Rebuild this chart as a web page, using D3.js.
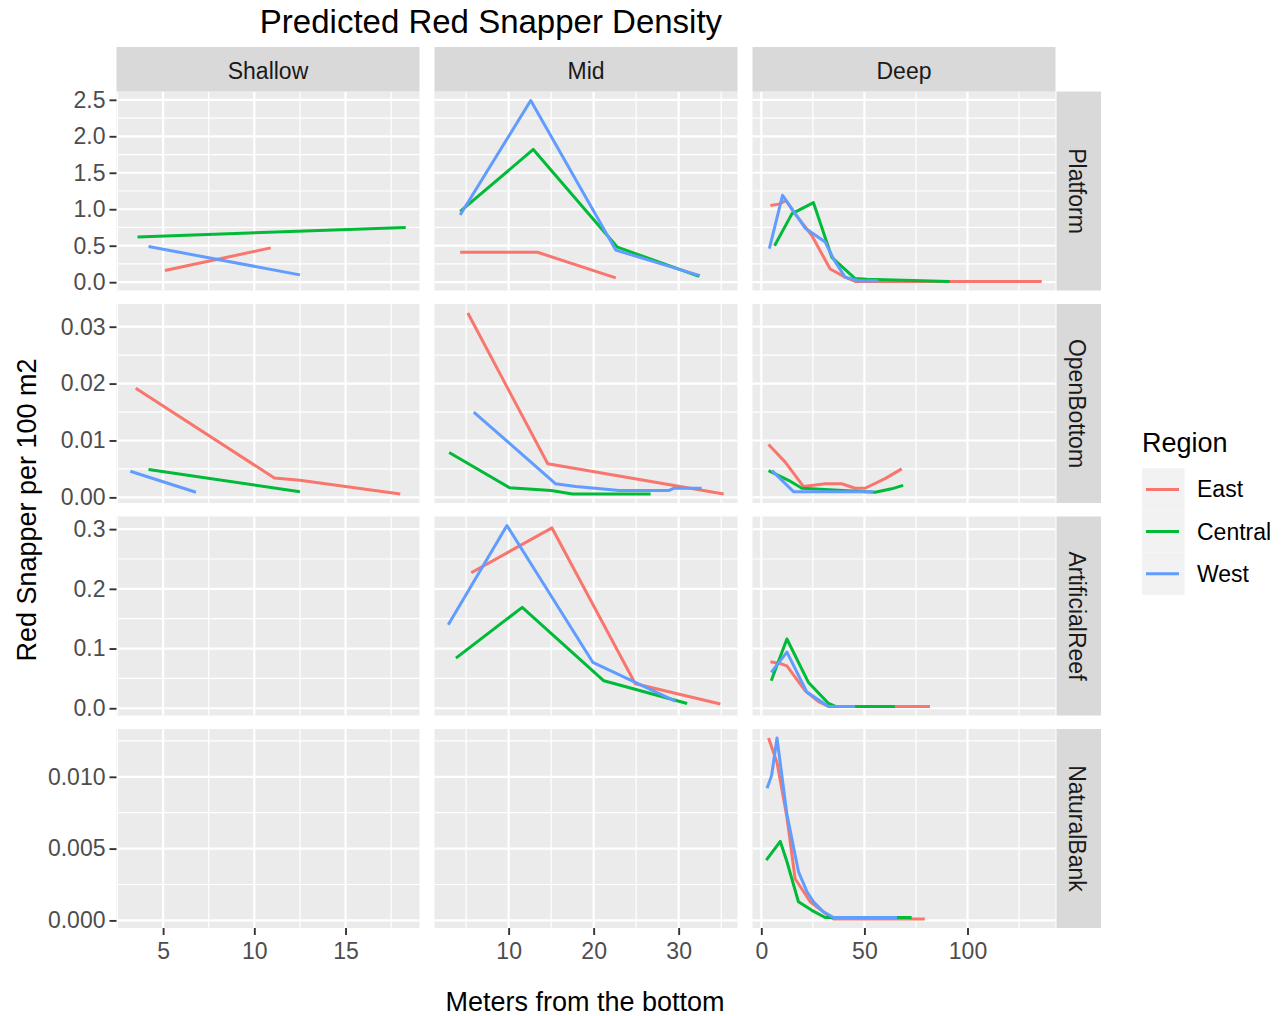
<!DOCTYPE html>
<html>
<head>
<meta charset="utf-8">
<script src="https://cdn.jsdelivr.net/npm/d3@7"></script>
<style>
  body { margin: 0; background: #fff; }
  svg { display: block; font-family: "Liberation Sans", Arial, sans-serif; }
</style>
</head>
<body>
<svg id="chart" width="1288" height="1016"></svg>
<script>
// ---- categories ----
const depthZones = ["Shallow", "Mid", "Deep"];
const habitats = ["Platform", "OpenBottom", "ArtificialReef", "NaturalBank"];
const regions = ["East", "Central", "West"];
const regionColors = ["#F8766D", "#00BA38", "#619CFF"];

// ---- tick labels ----
const xTicksByZone = [[5, 10, 15], [10, 20, 30], [0, 50, 100]];
const yTicksByHabitat = [[0, 0.5, 1, 1.5, 2, 2.5], [0, 0.01, 0.02, 0.03], [0, 0.1, 0.2, 0.3], [0, 0.005, 0.01]];
const yTickFormats = [".1f", ".2f", ".1f", ".3f"];

// ---- series: [meters from bottom, density per 100 m2] ----
// Platform
const shallowPlatformEast    = [[5.1, 0.16], [10.9, 0.47]];
const shallowPlatformCentral = [[3.6, 0.62], [18.3, 0.75]];
const shallowPlatformWest    = [[4.2, 0.49], [12.5, 0.10]];
const midPlatformEast    = [[4.3, 0.41], [13.4, 0.41], [22.6, 0.06]];
const midPlatformCentral = [[4.3, 0.97], [12.9, 1.82], [22.8, 0.48], [32.4, 0.08]];
const midPlatformWest    = [[4.3, 0.92], [12.6, 2.49], [22.6, 0.44], [32.5, 0.09]];
const deepPlatformEast    = [[4.4, 1.05], [8.5, 1.07], [12.0, 1.12], [16.0, 0.95], [24.5, 0.64], [33.4, 0.18], [40.6, 0.07], [45.5, 0.01], [136, 0.01]];
const deepPlatformCentral = [[6.4, 0.50], [14.9, 0.94], [25.3, 1.09], [34.2, 0.34], [45.5, 0.05], [51.1, 0.04], [91.4, 0.01]];
const deepPlatformWest    = [[3.9, 0.46], [10.3, 1.19], [21.3, 0.74], [31.0, 0.55], [35.0, 0.32], [40.6, 0.07], [47.0, 0.02], [56.7, 0.02]];

// OpenBottom
const shallowOpenEast    = [[3.5, 0.0192], [11.1, 0.0034], [12.5, 0.0030], [18.0, 0.0006]];
const shallowOpenCentral = [[4.2, 0.0049], [12.5, 0.0010]];
const shallowOpenWest    = [[3.2, 0.0046], [6.8, 0.0009]];
const midOpenEast    = [[5.2, 0.0324], [14.6, 0.0059], [35.3, 0.0006]];
const midOpenCentral = [[3.0, 0.0079], [10.1, 0.0017], [15.0, 0.0012], [17.5, 0.0006], [26.7, 0.0006]];
const midOpenWest    = [[5.9, 0.0150], [15.5, 0.0024], [17.9, 0.0019], [20.2, 0.0016], [23.0, 0.0012], [28.8, 0.0012], [29.4, 0.0016], [32.7, 0.0016]];
const deepOpenEast    = [[3.5, 0.0093], [11.6, 0.0062], [20.5, 0.0019], [31.0, 0.0024], [39.0, 0.0024], [45.5, 0.0016], [50.3, 0.0016], [60.0, 0.0033], [68.1, 0.0050]];
const deepOpenCentral = [[3.5, 0.0047], [13.2, 0.0030], [19.7, 0.0016], [55.2, 0.0009], [63.2, 0.0015], [68.8, 0.0021]];
const deepOpenWest    = [[5.2, 0.0047], [15.6, 0.0010], [54.3, 0.0010]];

// ArtificialReef
const midReefEast    = [[5.6, 0.227], [15.1, 0.302], [24.9, 0.041], [34.9, 0.007]];
const midReefCentral = [[3.8, 0.084], [11.6, 0.169], [21.2, 0.046], [31.0, 0.008]];
const midReefWest    = [[2.9, 0.140], [9.8, 0.306], [19.9, 0.077], [29.6, 0.012]];
const deepReefEast    = [[4.4, 0.078], [10.0, 0.074], [12.4, 0.071], [21.3, 0.029], [27.7, 0.011], [32.6, 0.003], [81.8, 0.003]];
const deepReefCentral = [[4.8, 0.046], [12.4, 0.116], [22.9, 0.043], [32.6, 0.008], [36.0, 0.003], [64.8, 0.003]];
const deepReefWest    = [[4.8, 0.060], [12.4, 0.094], [22.1, 0.027], [32.6, 0.003], [45.5, 0.003]];

// NaturalBank
const deepBankEast    = [[3.5, 0.0127], [7.6, 0.0110], [12.4, 0.0072], [16.4, 0.0029], [23.7, 0.0013], [31.0, 0.0005], [35.0, 0.0001], [79.3, 0.0001]];
const deepBankCentral = [[2.4, 0.0042], [9.2, 0.0055], [12.4, 0.0041], [18.0, 0.0013], [24.5, 0.0007], [31.0, 0.0002], [72.9, 0.0002]];
const deepBankWest    = [[2.8, 0.0092], [5.0, 0.0101], [7.6, 0.0127], [12.4, 0.0074], [18.0, 0.0034], [22.1, 0.0020], [25.3, 0.0013], [30.1, 0.0006], [35.0, 0.0002], [65.8, 0.0002]];

// table of series: zone index, habitat index, region index, points
const seriesTable = [
  [0, 0, 0, shallowPlatformEast], [0, 0, 1, shallowPlatformCentral], [0, 0, 2, shallowPlatformWest],
  [1, 0, 0, midPlatformEast], [1, 0, 1, midPlatformCentral], [1, 0, 2, midPlatformWest],
  [2, 0, 0, deepPlatformEast], [2, 0, 1, deepPlatformCentral], [2, 0, 2, deepPlatformWest],
  [0, 1, 0, shallowOpenEast], [0, 1, 1, shallowOpenCentral], [0, 1, 2, shallowOpenWest],
  [1, 1, 0, midOpenEast], [1, 1, 1, midOpenCentral], [1, 1, 2, midOpenWest],
  [2, 1, 0, deepOpenEast], [2, 1, 1, deepOpenCentral], [2, 1, 2, deepOpenWest],
  [1, 2, 0, midReefEast], [1, 2, 1, midReefCentral], [1, 2, 2, midReefWest],
  [2, 2, 0, deepReefEast], [2, 2, 1, deepReefCentral], [2, 2, 2, deepReefWest],
  [2, 3, 0, deepBankEast], [2, 3, 1, deepBankCentral], [2, 3, 2, deepBankWest]
].map(([z, h, r, pts]) => ({ zone: z, habitat: h, region: r, points: pts }));

// ---- layout ----
const panelLeft = [116.5, 434.5, 752.5];
const panelW = 303;
const panelTop = [91.5, 304, 516.5, 729];
const panelH = 199;
const stripTop = 47, stripSize = 44.5;
const rightStripX = 1056.5;
const lineWidth = 3;

const svg = d3.select("#chart");
svg.append("rect").attr("width", 1288).attr("height", 1016).attr("fill", "#fff");

// free scales per column (x) and per row (y), 5% expansion like ggplot
function expanded(ext) {
  const pad = (ext[1] - ext[0]) * 0.05;
  return [ext[0] - pad, ext[1] + pad];
}
const xScales = depthZones.map((_, z) => {
  const pts = seriesTable.filter(s => s.zone === z).flatMap(s => s.points);
  return d3.scaleLinear().domain(expanded(d3.extent(pts, d => d[0])))
    .range([panelLeft[z], panelLeft[z] + panelW]);
});
const yScales = habitats.map((_, h) => {
  const pts = seriesTable.filter(s => s.habitat === h).flatMap(s => s.points);
  return d3.scaleLinear().domain(expanded(d3.extent(pts, d => d[1])))
    .range([panelTop[h] + panelH, panelTop[h]]);
});

function minorBreaks(major, domain) {
  const step = major[1] - major[0];
  const out = [];
  for (let v = major[0] - step / 2; v <= major[major.length - 1] + step / 2 + 1e-12; v += step) {
    if (v >= domain[0] && v <= domain[1]) out.push(v);
  }
  return out;
}

const defs = svg.append("defs");
const lineGen = (xs, ys) => d3.line().x(d => xs(d[0])).y(d => ys(d[1]));

// ---- panels ----
habitats.forEach((hab, h) => {
  depthZones.forEach((zone, z) => {
    const xs = xScales[z], ys = yScales[h];
    const g = svg.append("g");
    const x0 = panelLeft[z], y0 = panelTop[h];
    g.append("rect").attr("x", x0).attr("y", y0).attr("width", panelW).attr("height", panelH).attr("fill", "#EBEBEB");

    const xMinor = minorBreaks(xTicksByZone[z], xs.domain());
    const yMinor = minorBreaks(yTicksByHabitat[h], ys.domain());
    g.selectAll("line.xminor").data(xMinor).join("line")
      .attr("x1", d => xs(d)).attr("x2", d => xs(d)).attr("y1", y0).attr("y2", y0 + panelH)
      .attr("stroke", "#fff").attr("stroke-width", 1.2);
    g.selectAll("line.yminor").data(yMinor).join("line")
      .attr("y1", d => ys(d)).attr("y2", d => ys(d)).attr("x1", x0).attr("x2", x0 + panelW)
      .attr("stroke", "#fff").attr("stroke-width", 1.2);
    g.selectAll("line.xmajor").data(xTicksByZone[z]).join("line")
      .attr("x1", d => xs(d)).attr("x2", d => xs(d)).attr("y1", y0).attr("y2", y0 + panelH)
      .attr("stroke", "#fff").attr("stroke-width", 2.2);
    g.selectAll("line.ymajor").data(yTicksByHabitat[h]).join("line")
      .attr("y1", d => ys(d)).attr("y2", d => ys(d)).attr("x1", x0).attr("x2", x0 + panelW)
      .attr("stroke", "#fff").attr("stroke-width", 2.2);

    const clipId = `clip-${h}-${z}`;
    defs.append("clipPath").attr("id", clipId).append("rect")
      .attr("x", x0).attr("y", y0).attr("width", panelW).attr("height", panelH);

    const panelSeries = seriesTable.filter(s => s.zone === z && s.habitat === h)
      .sort((a, b) => a.region - b.region);
    g.append("g").attr("clip-path", `url(#${clipId})`)
      .selectAll("path").data(panelSeries).join("path")
      .attr("d", s => lineGen(xs, ys)(s.points))
      .attr("fill", "none")
      .attr("stroke", s => regionColors[s.region])
      .attr("stroke-width", lineWidth)
      .attr("stroke-linejoin", "round");
  });
});

// ---- axes ----
function styleAxis(sel) {
  sel.select(".domain").remove();
  sel.selectAll(".tick line").attr("stroke", "#333").attr("stroke-width", 1.9);
  sel.selectAll(".tick text").attr("fill", "#4D4D4D").style("font-size", "23px");
}
habitats.forEach((_, h) => {
  const ax = d3.axisLeft(yScales[h]).tickValues(yTicksByHabitat[h])
    .tickFormat(d3.format(yTickFormats[h])).tickSize(7).tickPadding(4);
  svg.append("g").attr("transform", `translate(${panelLeft[0]},0)`).call(ax).call(styleAxis);
});
depthZones.forEach((_, z) => {
  const ax = d3.axisBottom(xScales[z]).tickValues(xTicksByZone[z])
    .tickFormat(d3.format("d")).tickSize(7).tickPadding(8);
  svg.append("g").attr("transform", `translate(0,${panelTop[3] + panelH})`).call(ax).call(styleAxis);
});

// ---- strips ----
depthZones.forEach((zone, z) => {
  svg.append("rect").attr("x", panelLeft[z]).attr("y", stripTop).attr("width", panelW).attr("height", stripSize)
    .attr("fill", "#D9D9D9");
  svg.append("text").attr("x", panelLeft[z] + panelW / 2).attr("y", stripTop + stripSize / 2 + 2)
    .attr("text-anchor", "middle").attr("dominant-baseline", "central")
    .attr("fill", "#1A1A1A").style("font-size", "23px").text(zone);
});
habitats.forEach((hab, h) => {
  svg.append("rect").attr("x", rightStripX).attr("y", panelTop[h]).attr("width", stripSize).attr("height", panelH)
    .attr("fill", "#D9D9D9");
  const cx = rightStripX + stripSize / 2 - 2, cy = panelTop[h] + panelH / 2;
  svg.append("text").attr("transform", `translate(${cx},${cy}) rotate(90)`)
    .attr("text-anchor", "middle").attr("dominant-baseline", "central")
    .attr("fill", "#1A1A1A").style("font-size", "23px").text(hab);
});

// ---- titles ----
svg.append("text").attr("x", 491).attr("y", 33).attr("text-anchor", "middle")
  .attr("fill", "#000").style("font-size", "33px").text("Predicted Red Snapper Density");
svg.append("text").attr("x", 585).attr("y", 1011).attr("text-anchor", "middle")
  .attr("fill", "#000").style("font-size", "27px").text("Meters from the bottom");
svg.append("text").attr("transform", "translate(36,510) rotate(-90)").attr("text-anchor", "middle")
  .attr("fill", "#000").style("font-size", "27px").text("Red Snapper per 100 m2");

// ---- legend ----
const legend = svg.append("g");
legend.append("text").attr("x", 1142).attr("y", 452).attr("fill", "#000").style("font-size", "27px").text("Region");
const keyTop = 468.3, keyH = 42.2;
regions.forEach((r, i) => {
  const ky = keyTop + i * keyH;
  legend.append("rect").attr("x", 1142).attr("y", ky).attr("width", 42.5).attr("height", keyH).attr("fill", "#F2F2F2");
  legend.append("line").attr("x1", 1146).attr("x2", 1179).attr("y1", ky + keyH / 2).attr("y2", ky + keyH / 2)
    .attr("stroke", regionColors[i]).attr("stroke-width", lineWidth);
  legend.append("text").attr("x", 1197).attr("y", ky + keyH / 2).attr("dominant-baseline", "central")
    .attr("fill", "#000").style("font-size", "23px").text(r);
});
</script>
</body>
</html>
